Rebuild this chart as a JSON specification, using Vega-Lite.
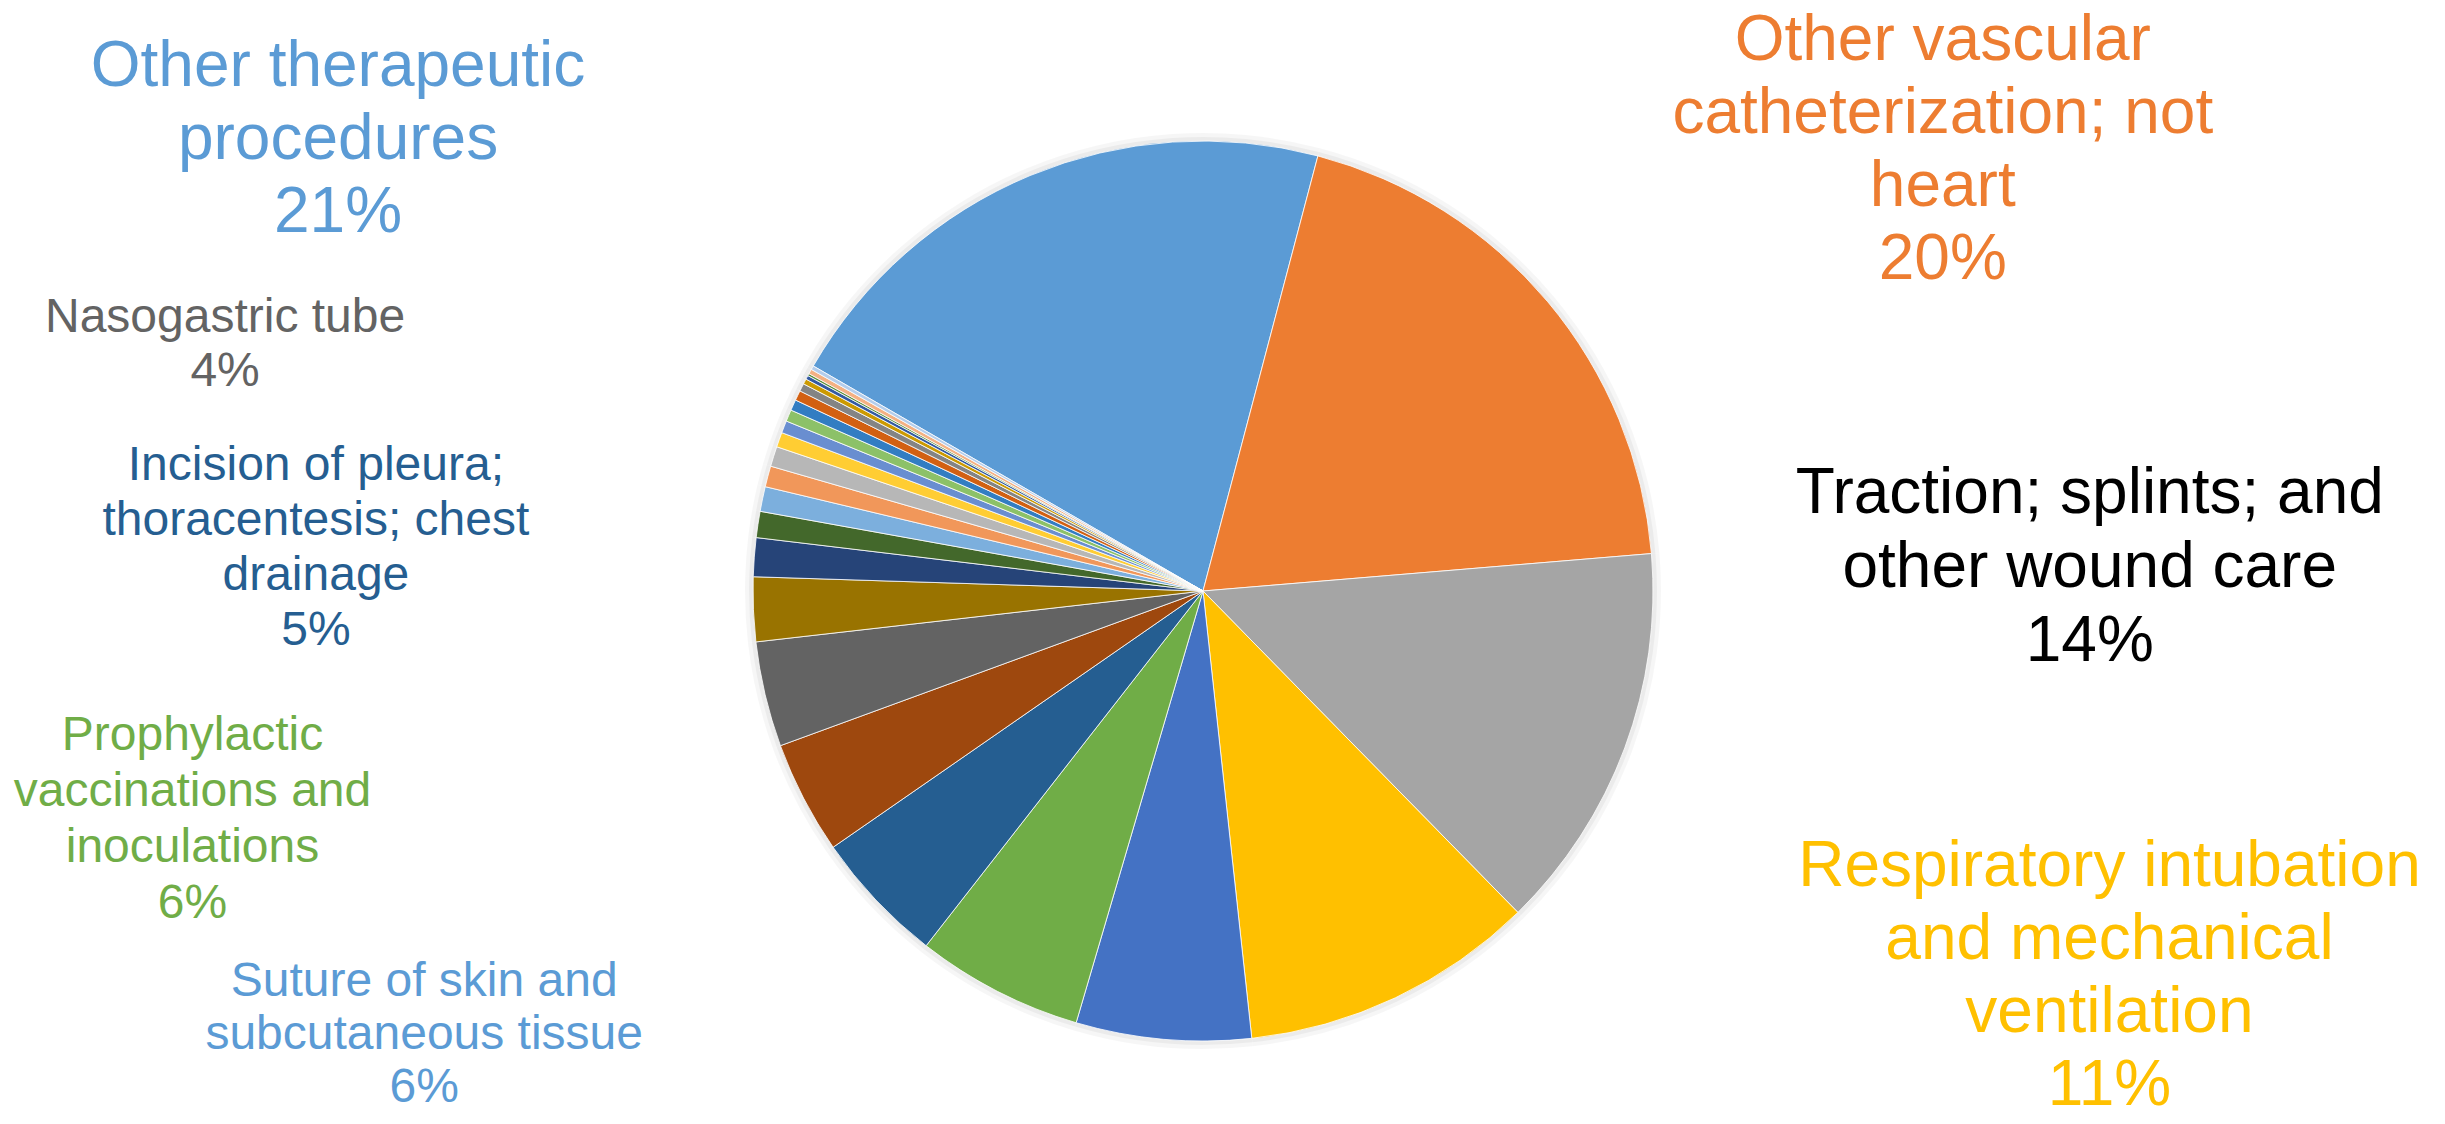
{
  "$schema": "https://vega.github.io/schema/vega-lite/v6.json",
  "autosize": "none",
  "width": 2406,
  "height": 1066,
  "padding": {"left": 0, "top": 58, "right": 39, "bottom": 0},
  "background": "#ffffff",
  "config": {"view": {"stroke": null}, "text": {"font": "Liberation Sans"}},
  "data": {
    "values": [
      {"k": 1, "cat": "Other therapeutic procedures", "value": 20.78, "label": "Other therapeutic\nprocedures\n21%"},
      {"k": 2, "cat": "Other vascular catheterization; not heart", "value": 19.57, "label": "Other vascular\ncatheterization; not\nheart\n20%"},
      {"k": 3, "cat": "Traction; splints; and other wound care", "value": 13.99, "label": "Traction; splints; and\nother wound care\n14%"},
      {"k": 4, "cat": "Respiratory intubation and mechanical ventilation", "value": 10.61, "label": "Respiratory intubation\nand mechanical\nventilation\n11%"},
      {"k": 5, "cat": "Suture of skin and subcutaneous tissue", "value": 6.28, "label": "Suture of skin and\nsubcutaneous tissue\n6%"},
      {"k": 6, "cat": "Prophylactic vaccinations and inoculations", "value": 6.0, "label": "Prophylactic\nvaccinations and\ninoculations\n6%"},
      {"k": 7, "cat": "Incision of pleura; thoracentesis; chest drainage", "value": 4.81, "label": "Incision of pleura;\nthoracentesis; chest\ndrainage\n5%"},
      {"k": 8, "cat": "Category 8", "value": 4.06, "label": ""},
      {"k": 9, "cat": "Nasogastric tube", "value": 3.78, "label": "Nasogastric tube\n4%"},
      {"k": 10, "cat": "Category 10", "value": 2.31, "label": ""},
      {"k": 11, "cat": "Category 11", "value": 1.39, "label": ""},
      {"k": 12, "cat": "Category 12", "value": 0.94, "label": ""},
      {"k": 13, "cat": "Category 13", "value": 0.89, "label": ""},
      {"k": 14, "cat": "Category 14", "value": 0.75, "label": ""},
      {"k": 15, "cat": "Category 15", "value": 0.72, "label": ""},
      {"k": 16, "cat": "Category 16", "value": 0.53, "label": ""},
      {"k": 17, "cat": "Category 17", "value": 0.44, "label": ""},
      {"k": 18, "cat": "Category 18", "value": 0.42, "label": ""},
      {"k": 19, "cat": "Category 19", "value": 0.39, "label": ""},
      {"k": 20, "cat": "Category 20", "value": 0.36, "label": ""},
      {"k": 21, "cat": "Category 21", "value": 0.28, "label": ""},
      {"k": 22, "cat": "Category 22", "value": 0.19, "label": ""},
      {"k": 23, "cat": "Category 23", "value": 0.14, "label": ""},
      {"k": 24, "cat": "Category 24", "value": 0.08, "label": ""},
      {"k": 25, "cat": "Category 25", "value": 0.17, "label": ""},
      {"k": 26, "cat": "Category 26", "value": 0.14, "label": ""}
    ]
  },
  "layer": [
    {
      "mark": {"type": "arc", "outerRadius": 458, "color": "#000000", "opacity": 0.035},
      "encoding": {
        "theta": {"field": "value", "type": "quantitative", "stack": true, "scale": {"range": [5.23599, 11.51917]}},
        "order": {"field": "k", "type": "quantitative"}
      }
    },
    {
      "mark": {"type": "arc", "outerRadius": 454, "color": "#000000", "opacity": 0.045},
      "encoding": {
        "theta": {"field": "value", "type": "quantitative", "stack": true, "scale": {"range": [5.23599, 11.51917]}},
        "order": {"field": "k", "type": "quantitative"}
      }
    },
    {
      "mark": {"type": "arc", "outerRadius": 450, "stroke": "#ffffff", "strokeWidth": 0.8},
      "encoding": {
        "theta": {"field": "value", "type": "quantitative", "stack": true, "scale": {"range": [5.23599, 11.51917]}},
        "order": {"field": "k", "type": "quantitative"},
        "color": {
          "field": "cat", "type": "nominal", "legend": null,
          "scale": {
            "domain": ["Other therapeutic procedures", "Other vascular catheterization; not heart", "Traction; splints; and other wound care", "Respiratory intubation and mechanical ventilation", "Suture of skin and subcutaneous tissue", "Prophylactic vaccinations and inoculations", "Incision of pleura; thoracentesis; chest drainage", "Category 8", "Nasogastric tube", "Category 10", "Category 11", "Category 12", "Category 13", "Category 14", "Category 15", "Category 16", "Category 17", "Category 18", "Category 19", "Category 20", "Category 21", "Category 22", "Category 23", "Category 24", "Category 25", "Category 26"],
            "range": ["#5B9BD5", "#ED7D31", "#A5A5A5", "#FFC000", "#4472C4", "#70AD47", "#255E91", "#9E480E", "#636363", "#997300", "#264478", "#43682B", "#7CAFDD", "#F1975A", "#B7B7B7", "#FFCD33", "#698ED0", "#8CC168", "#327DC2", "#D26012", "#848484", "#CC9A00", "#335AA1", "#5A8F3A", "#F4B183", "#B4CDEB"]
          }
        }
      }
    },
    {
      "mark": {"type": "text", "radius": 450, "dx": -692, "dy": -109, "fontSize": 64, "lineHeight": 73, "color": "#5B9BD5", "lineBreak": "\n", "align": "center", "baseline": "middle"},
      "encoding": {
        "theta": {"field": "value", "type": "quantitative", "stack": true, "scale": {"range": [5.23599, 11.51917]}},
        "order": {"field": "k", "type": "quantitative"},
        "text": {"condition": {"test": "datum.k === 1", "field": "label"}, "value": ""}
      }
    },
    {
      "mark": {"type": "text", "radius": 450, "dx": 395, "dy": -261, "fontSize": 64, "lineHeight": 73, "color": "#ED7D31", "lineBreak": "\n", "align": "center", "baseline": "middle"},
      "encoding": {
        "theta": {"field": "value", "type": "quantitative", "stack": true, "scale": {"range": [5.23599, 11.51917]}},
        "order": {"field": "k", "type": "quantitative"},
        "text": {"condition": {"test": "datum.k === 2", "field": "label"}, "value": ""}
      }
    },
    {
      "mark": {"type": "text", "radius": 450, "dx": 465, "dy": -254, "fontSize": 64, "lineHeight": 74, "color": "#000000", "lineBreak": "\n", "align": "center", "baseline": "middle"},
      "encoding": {
        "theta": {"field": "value", "type": "quantitative", "stack": true, "scale": {"range": [5.23599, 11.51917]}},
        "order": {"field": "k", "type": "quantitative"},
        "text": {"condition": {"test": "datum.k === 3", "field": "label"}, "value": ""}
      }
    },
    {
      "mark": {"type": "text", "radius": 450, "dx": 714, "dy": -131, "fontSize": 64, "lineHeight": 73, "color": "#FFC000", "lineBreak": "\n", "align": "center", "baseline": "middle"},
      "encoding": {
        "theta": {"field": "value", "type": "quantitative", "stack": true, "scale": {"range": [5.23599, 11.51917]}},
        "order": {"field": "k", "type": "quantitative"},
        "text": {"condition": {"test": "datum.k === 4", "field": "label"}, "value": ""}
      }
    },
    {
      "mark": {"type": "text", "radius": 450, "dx": -739, "dy": -57, "fontSize": 48, "lineHeight": 53, "color": "#5B9BD5", "lineBreak": "\n", "align": "center", "baseline": "middle"},
      "encoding": {
        "theta": {"field": "value", "type": "quantitative", "stack": true, "scale": {"range": [5.23599, 11.51917]}},
        "order": {"field": "k", "type": "quantitative"},
        "text": {"condition": {"test": "datum.k === 5", "field": "label"}, "value": ""}
      }
    },
    {
      "mark": {"type": "text", "radius": 450, "dx": -805, "dy": -255, "fontSize": 48, "lineHeight": 56, "color": "#70AD47", "lineBreak": "\n", "align": "center", "baseline": "middle"},
      "encoding": {
        "theta": {"field": "value", "type": "quantitative", "stack": true, "scale": {"range": [5.23599, 11.51917]}},
        "order": {"field": "k", "type": "quantitative"},
        "text": {"condition": {"test": "datum.k === 6", "field": "label"}, "value": ""}
      }
    },
    {
      "mark": {"type": "text", "radius": 450, "dx": -560, "dy": -434, "fontSize": 48, "lineHeight": 55, "color": "#255E91", "lineBreak": "\n", "align": "center", "baseline": "middle"},
      "encoding": {
        "theta": {"field": "value", "type": "quantitative", "stack": true, "scale": {"range": [5.23599, 11.51917]}},
        "order": {"field": "k", "type": "quantitative"},
        "text": {"condition": {"test": "datum.k === 7", "field": "label"}, "value": ""}
      }
    },
    {
      "mark": {"type": "text", "radius": 450, "dx": -540, "dy": -377, "fontSize": 48, "lineHeight": 54, "color": "#636363", "lineBreak": "\n", "align": "center", "baseline": "middle"},
      "encoding": {
        "theta": {"field": "value", "type": "quantitative", "stack": true, "scale": {"range": [5.23599, 11.51917]}},
        "order": {"field": "k", "type": "quantitative"},
        "text": {"condition": {"test": "datum.k === 9", "field": "label"}, "value": ""}
      }
    }
  ]
}
